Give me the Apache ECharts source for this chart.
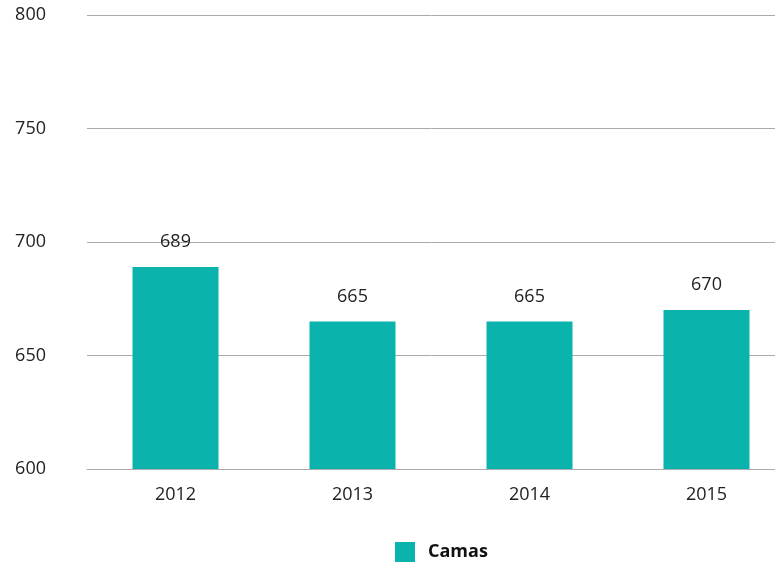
<!DOCTYPE html>
<html>
<head>
<meta charset="utf-8">
<script src="https://cdn.jsdelivr.net/npm/echarts@6/dist/echarts.min.js"></script>
<style>
  html, body { margin: 0; padding: 0; background: #fff; }
  #chart { width: 775px; height: 565px; }
</style>
</head>
<body>
<div id="chart"></div>
<script>
  var years = ['2012', '2013', '2014', '2015'];
  var camas = [689, 665, 665, 670];

  var chart = echarts.init(document.getElementById('chart'));
  chart.setOption({
    animation: false,
    textStyle: { fontFamily: 'Open Sans' },
    grid: { left: 87, width: 708, top: 15, height: 454, outerBoundsMode: 'none', containLabel: false },
    legend: {
      top: 537,
      left: 390,
      itemWidth: 20,
      itemHeight: 20,
      icon: 'rect',
      textStyle: { fontSize: 18, fontWeight: 'bold', color: '#111', padding: [0, 0, 0, 8] },
      data: ['Camas']
    },
    xAxis: {
      type: 'category',
      data: years,
      axisLine: { lineStyle: { color: '#aaa' } },
      axisTick: { length: 14, lineStyle: { color: '#aaa' } },
      axisLabel: { fontSize: 18, color: '#222', margin: 17 }
    },
    yAxis: {
      type: 'value',
      min: 600,
      max: 800,
      interval: 50,
      axisLine: { show: false },
      axisTick: { show: false },
      splitLine: { lineStyle: { color: '#aaa' } },
      axisLabel: { fontSize: 18, color: '#222', margin: 41 }
    },
    series: [{
      name: 'Camas',
      type: 'bar',
      data: camas,
      barWidth: 86,
      itemStyle: { color: '#0ab3ab' },
      label: { show: true, position: 'top', distance: 16, fontSize: 18, color: '#222' }
    }]
  });
</script>
</body>
</html>
